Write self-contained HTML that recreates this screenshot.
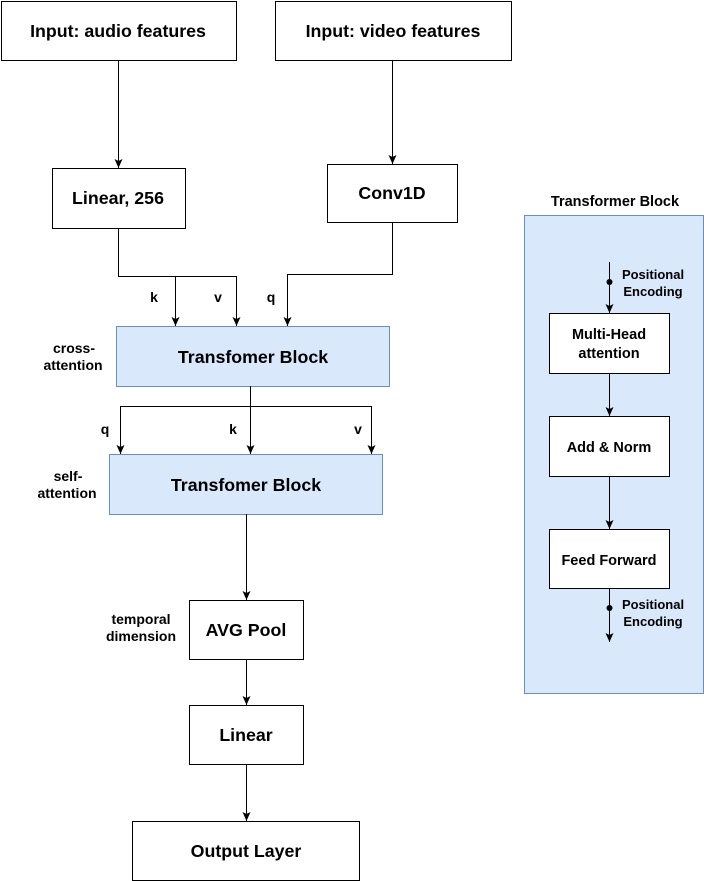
<!DOCTYPE html>
<html><head><style>body{margin:0;background:#fff}svg{display:block}text{font-family:"Liberation Sans",Arial,sans-serif;font-weight:bold;fill:#000}</style></head>
<body>
<svg width="704" height="881" viewBox="0 0 704 881" xmlns="http://www.w3.org/2000/svg">
<defs><marker id="a" markerWidth="10" markerHeight="10" refX="9" refY="5" orient="auto" markerUnits="userSpaceOnUse"><path d="M0,1 L9,5 L0,9 L2,5 Z" fill="#000"/></marker></defs>
<g fill="#fff" stroke="#000" stroke-width="1">
<rect x="1.5" y="1.5" width="235" height="59"/>
<rect x="275.5" y="1.5" width="236" height="59"/>
<rect x="52.5" y="168.5" width="133" height="60"/>
<rect x="327.5" y="164.5" width="130" height="58"/>
<rect x="189.5" y="600.5" width="114" height="59"/>
<rect x="189.5" y="705.5" width="114" height="59"/>
<rect x="132.5" y="821.5" width="227" height="59"/>
</g>
<rect x="524.5" y="215.5" width="179" height="478" fill="#dae8fc" stroke="#6c8ebf"/>
<rect x="116.5" y="326.5" width="273" height="60" fill="#dae8fc" stroke="#6c8ebf"/>
<rect x="109.5" y="454.5" width="273" height="60" fill="#dae8fc" stroke="#6c8ebf"/>
<g fill="#fff" stroke="#000">
<rect x="549.5" y="313.5" width="120" height="60"/>
<rect x="549.5" y="416.5" width="120" height="60"/>
<rect x="549.5" y="529.5" width="120" height="59"/>
</g>
<g stroke="#000" fill="none" stroke-width="1">
<line x1="118.5" y1="60" x2="118.5" y2="168" marker-end="url(#a)"/>
<line x1="392.5" y1="60" x2="392.5" y2="164" marker-end="url(#a)"/>
<polyline points="118.5,228 118.5,276.5 236.5,276.5 236.5,326" marker-end="url(#a)"/>
<line x1="175.5" y1="276.5" x2="175.5" y2="326" marker-end="url(#a)"/>
<polyline points="392.5,222 392.5,274.5 287.5,274.5 287.5,326" marker-end="url(#a)"/>
<line x1="250.5" y1="386" x2="250.5" y2="454" marker-end="url(#a)"/>
<polyline points="120.5,454 120.5,406.5 371.5,406.5 371.5,454" marker-end="url(#a)"/>
<line x1="120.5" y1="410" x2="120.5" y2="454" marker-end="url(#a)"/>
<line x1="246.5" y1="514" x2="246.5" y2="600" marker-end="url(#a)"/>
<line x1="246.5" y1="659" x2="246.5" y2="705" marker-end="url(#a)"/>
<line x1="246.5" y1="764" x2="246.5" y2="821" marker-end="url(#a)"/>
<line x1="609.5" y1="262" x2="609.5" y2="313" marker-end="url(#a)"/>
<line x1="609.5" y1="373" x2="609.5" y2="416" marker-end="url(#a)"/>
<line x1="609.5" y1="476" x2="609.5" y2="529" marker-end="url(#a)"/>
<line x1="609.5" y1="588" x2="609.5" y2="642" marker-end="url(#a)"/>
</g>
<circle cx="609.5" cy="282" r="3" fill="#000"/>
<circle cx="609.5" cy="608" r="3" fill="#000"/>
<g text-anchor="middle" font-size="17.8">
<text x="118" y="37">Input: audio features</text>
<text x="393" y="37">Input: video features</text>
<text x="118" y="204">Linear, 256</text>
<text x="392" y="199">Conv1D</text>
<text x="253" y="363">Transfomer Block</text>
<text x="246" y="491">Transfomer Block</text>
<text x="246" y="636">AVG Pool</text>
<text x="246" y="741">Linear</text>
<text x="246" y="857">Output Layer</text>
</g>
<g text-anchor="middle" font-size="14.5">
<text x="609" y="339">Multi-Head</text>
<text x="609" y="358">attention</text>
<text x="609" y="452">Add &amp; Norm</text>
<text x="609" y="565">Feed Forward</text>
<text x="615" y="206">Transformer Block</text>
</g>
<g text-anchor="middle" font-size="13">
<text x="653" y="279">Positional</text>
<text x="653" y="296">Encoding</text>
<text x="653" y="609">Positional</text>
<text x="653" y="626">Encoding</text>
</g>
<g text-anchor="middle" font-size="14">
<text x="74" y="353">cross-</text>
<text x="73" y="370">attention</text>
<text x="68" y="481">self-</text>
<text x="67" y="498">attention</text>
<text x="141" y="624">temporal</text>
<text x="141" y="641">dimension</text>
</g>
<g text-anchor="middle" font-size="14">
<text x="154" y="302">k</text>
<text x="218" y="302">v</text>
<text x="271" y="302">q</text>
<text x="105" y="434">q</text>
<text x="233" y="434">k</text>
<text x="358" y="434">v</text>
</g>
</svg>
</body></html>
